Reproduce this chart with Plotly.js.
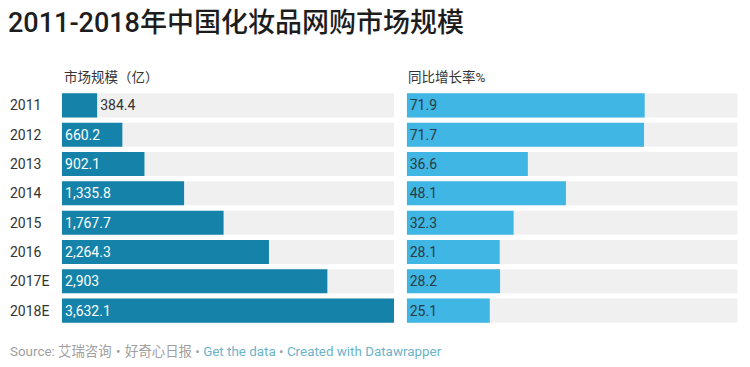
<!DOCTYPE html>
<html>
<head>
<meta charset="utf-8">
<script src="https://cdn.plot.ly/plotly-3.0.1.min.js"></script>
<style>html,body{margin:0;padding:0;background:#fff;}#chart{width:750px;height:367px;}</style>
</head>
<body>
<div id="chart"></div>
<script>
var years = ['2011','2012','2013','2014','2015','2016','2017E','2018E'];
var marketSize = [384.4, 660.2, 902.1, 1335.8, 1767.7, 2264.3, 2903, 3632.1];
var growthRate = [71.9, 71.7, 36.6, 48.1, 32.3, 28.1, 28.2, 25.1];
var sizeLabels = ['384.4','660.2','902.1','1,335.8','1,767.7','2,264.3','2,903','3,632.1'];
var rateLabels = ['71.9','71.7','36.6','48.1','32.3','28.1','28.2','25.1'];
var sizeMax = Math.max.apply(null, marketSize);
var rateMax = 100;

var FONT = 'Roboto, "Noto Sans CJK SC", sans-serif';
var W = 750, H = 367;

var traces = [
  {type:'bar', orientation:'h', y:years, x:years.map(function(){return sizeMax;}),
   xaxis:'x', yaxis:'y', marker:{color:'#f0f0f0'}, hoverinfo:'skip', width:0.82},
  {type:'bar', orientation:'h', y:years, x:marketSize, text:sizeLabels,
   xaxis:'x', yaxis:'y', marker:{color:'#1582aa'}, width:0.82,
   textposition:'auto', insidetextanchor:'start', cliponaxis:false, constraintext:'none',
   insidetextfont:{color:'#ffffff', size:14, family:FONT},
   outsidetextfont:{color:'#333333', size:14, family:FONT}, textangle:0},
  {type:'bar', orientation:'h', y:years, x:years.map(function(){return rateMax;}),
   xaxis:'x2', yaxis:'y2', marker:{color:'#f0f0f0'}, hoverinfo:'skip', width:0.82},
  {type:'bar', orientation:'h', y:years, x:growthRate, text:rateLabels,
   xaxis:'x2', yaxis:'y2', marker:{color:'#3fb6e3'}, width:0.82,
   textposition:'inside', insidetextanchor:'start', constraintext:'none',
   insidetextfont:{color:'#2b3a44', size:14, family:FONT}, textangle:0}
];

var yTop = 90.7, yBot = 325.3;
var yDomain = [1 - yBot/H, 1 - yTop/H];
var yRange = [years.length - 0.5, -0.5];

var annotations = years.map(function(yr, i){
  return {text:yr, xref:'paper', x:8/W, xanchor:'left', yref:'y', y:i, yanchor:'middle',
          showarrow:false, font:{size:14, color:'#333333', family:FONT}};
});
annotations.push({text:'市场规模（亿）', xref:'paper', x:62/W, xanchor:'left', yref:'paper', y:1-77/H, yanchor:'middle',
  showarrow:false, font:{size:13.5, color:'#333333', family:FONT}});
annotations.push({text:'同比增长率%', xref:'paper', x:406/W, xanchor:'left', yref:'paper', y:1-77/H, yanchor:'middle',
  showarrow:false, font:{size:13.5, color:'#333333', family:FONT}});
annotations.push({text:'<span style="color:#a0a0a0">Source: 艾瑞咨询・好奇心日报 • </span><span style="color:#6bb3c9">Get the data</span><span style="color:#a0a0a0"> • </span><span style="color:#6bb3c9">Created with Datawrapper</span>',
  xref:'paper', x:8/W, xanchor:'left', yref:'paper', y:1-351/H, yanchor:'middle',
  showarrow:false, font:{size:13.4, color:'#a0a0a0', family:FONT}});

var layout = {
  width:W, height:H, margin:{l:0,r:0,t:0,b:0},
  paper_bgcolor:'#ffffff', plot_bgcolor:'rgba(0,0,0,0)',
  barmode:'overlay', showlegend:false,
  title:{text:'2011-2018年中国化妆品网购市场规模', x:8/W, xanchor:'left', xref:'paper', yref:'container', y:1-23/H, yanchor:'middle',
    font:{size:27, color:'#1d1d1d', family:FONT, weight:500}},
  xaxis:{domain:[62/W, 394/W], range:[0, sizeMax], visible:false, fixedrange:true},
  yaxis:{domain:yDomain, type:'category', range:yRange, autorange:false, visible:false, fixedrange:true},
  xaxis2:{domain:[406.7/W, 737.7/W], range:[0, rateMax], visible:false, fixedrange:true, anchor:'y2'},
  yaxis2:{domain:yDomain, type:'category', range:yRange, autorange:false, visible:false, fixedrange:true, anchor:'x2'},
  annotations:annotations
};

Plotly.newPlot('chart', traces, layout, {displayModeBar:false, staticPlot:true});
</script>
</body>
</html>
